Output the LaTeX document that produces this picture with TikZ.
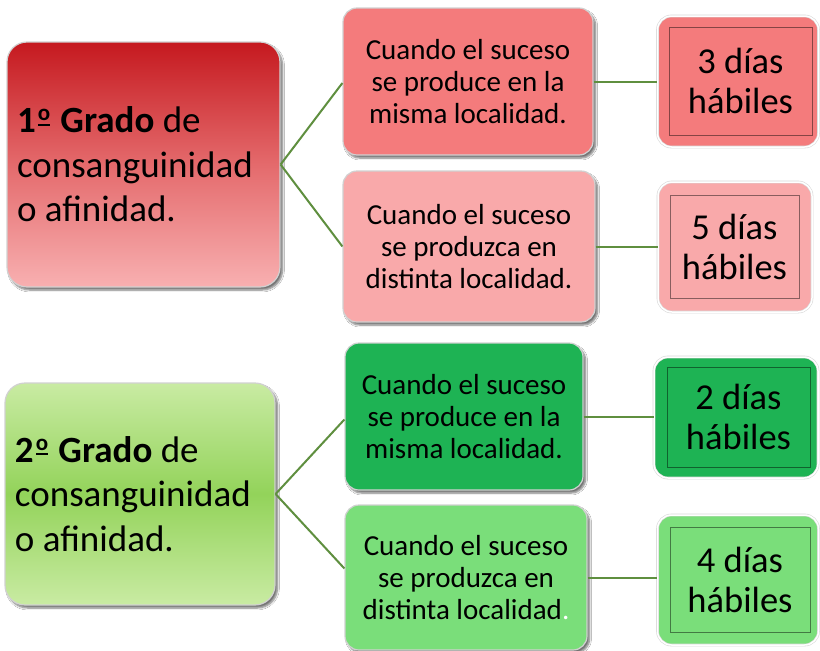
\documentclass[tikz,border=0pt]{standalone}
\usepackage{fontspec}
\setmainfont{Carlito}
\usetikzlibrary{shadows.blur}
\definecolor{rTop}{HTML}{C5191F}
\definecolor{rMid}{HTML}{E46A6C}
\definecolor{rBot}{HTML}{F8B0B1}
\definecolor{rA}{HTML}{F47B7C}
\definecolor{rB}{HTML}{F9A9AA}
\definecolor{gTop}{HTML}{C9EBA3}
\definecolor{gMid}{HTML}{93D35A}
\definecolor{gBot}{HTML}{C9EBA3}
\definecolor{gA}{HTML}{1EB354}
\definecolor{gB}{HTML}{7ADE7A}
\definecolor{lineC}{HTML}{5F8F3F}
\newcommand\ordmk{\kern2pt\raisebox{12pt}{\fontsize{23}{23}\selectfont\bfseries o}\llap{\rule[7pt]{12pt}{2.2pt}}\kern2pt}
\begin{document}
\begin{tikzpicture}[x=1pt,y=-1pt,
  shad/.style={blur shadow={shadow xshift=2.5pt, shadow yshift=-3pt, shadow opacity=55, shadow blur steps=6}},
  bigbox/.style={shad, rounded corners=20pt, draw=black!18, line width=1.2pt, inner xsep=10pt, inner ysep=0pt,
     align=flush left, text width=#1, font=\fontsize{37}{44.5}\selectfont},
  midbox/.style={shad, rounded corners=14pt, draw=black!18, line width=1.2pt, inner sep=0pt, align=flush center,
     fill=#1, font=\fontsize{29}{32}\selectfont},
  daybox/.style={rounded corners=14pt, draw=black!15, double=white, double distance=1.5pt, line width=0.6pt, fill=#1},
  dayin/.style={draw=#1!55!black, line width=0.9pt, fill=#1, inner sep=0pt, align=flush center, font=\fontsize{36.5}{40}\selectfont},
  conn/.style={draw=lineC, line width=2pt}
]
\useasboundingbox[fill=white] (0,0) rectangle (820,651);

% ---- top group (red) ----
\node[bigbox=253pt, minimum width=273pt, minimum height=245pt, top color=rTop, bottom color=rBot, middle color=rMid] (A1) at (143.5,164.5)
  {\textbf{1\ordmk{} Grado} de\\consanguinidad\\o afinidad.};
\node[midbox=rA, minimum width=250pt, minimum height=147pt] (B1) at (468,81.5)
  {Cuando el suceso\\se produce en la\\misma localidad.};
\node[midbox=rB, minimum width=252pt, minimum height=151pt] (B2) at (469,246.5)
  {Cuando el suceso\\se produzca en\\distinta localidad.};
\node[daybox=rA, minimum width=161pt, minimum height=131pt] (C1o) at (738,81.5) {};
\node[dayin=rA, minimum width=143pt, minimum height=108pt] (C1) at (740.5,81) {3 días\\hábiles};
\node[daybox=rB, minimum width=154pt, minimum height=130pt] (C2o) at (735,247) {};
\node[dayin=rB, minimum width=129pt, minimum height=103pt] (C2) at (734.5,246.5) {5 días\\hábiles};

% ---- bottom group (green) ----
\node[bigbox=250pt, minimum width=270pt, minimum height=222pt, top color=gTop, bottom color=gBot, middle color=gMid] (A2) at (140,494)
  {\textbf{2\ordmk{} Grado} de\\consanguinidad\\o afinidad.};
\node[midbox=gA, minimum width=238pt, minimum height=147pt] (B3) at (464,416.5)
  {Cuando el suceso\\se produce en la\\misma localidad.};
\node[midbox=gB, minimum width=242pt, minimum height=145pt] (B4) at (466,577.5)
  {Cuando el suceso\\se produzca en\\distinta localidad\textcolor{white}{.}};
\node[daybox=gA, minimum width=164pt, minimum height=121pt] (C3o) at (736,417.5) {};
\node[dayin=gA, minimum width=143pt, minimum height=100pt] (C3) at (738.5,417) {2 días\\hábiles};
\node[daybox=gB, minimum width=161pt, minimum height=130pt] (C4o) at (738,580) {};
\node[dayin=gB, minimum width=140pt, minimum height=105pt] (C4) at (740,579.5) {4 días\\hábiles};

% ---- connectors ----
\draw[conn] (A1.east) -- ([yshift=-1.5pt]B1.west);
\draw[conn] (A1.east) -- (B2.west);
\draw[conn] (B1.east) -- (B1.east -| C1o.west);
\draw[conn] (B2.east) -- (B2.east -| C2o.west);
\draw[conn] (A2.east) -- ([yshift=-3pt]B3.west);
\draw[conn] (A2.east) -- ([yshift=9pt]B4.west);
\draw[conn] (B3.east) -- (B3.east -| C3o.west);
\draw[conn] (B4.east) -- (B4.east -| C4o.west);
\end{tikzpicture}
\end{document}
